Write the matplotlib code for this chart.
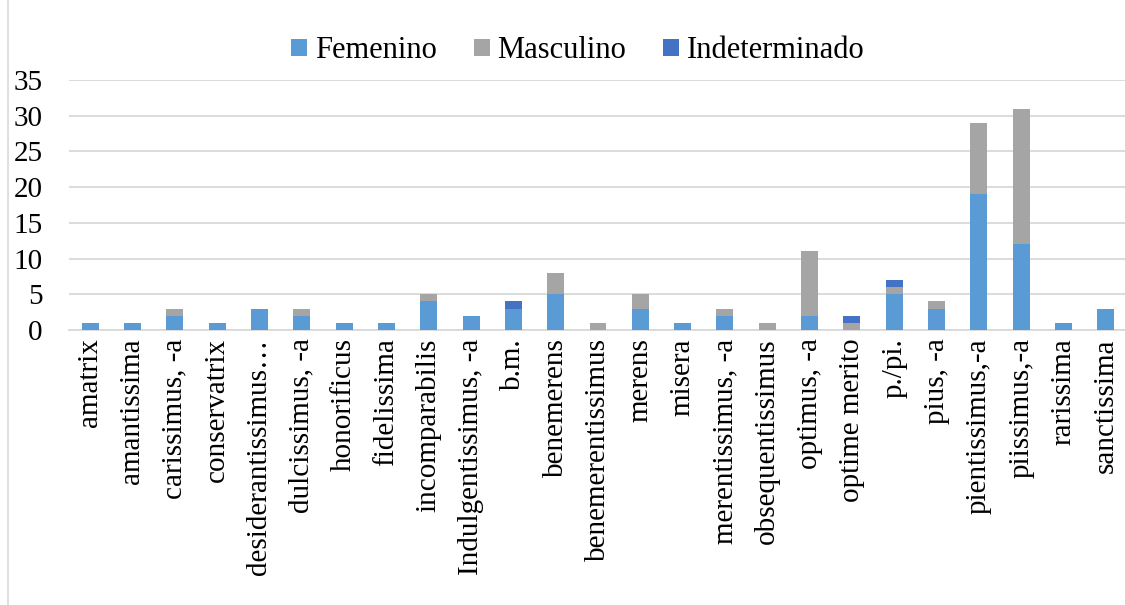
import numpy as np
import matplotlib
matplotlib.use('Agg')
import matplotlib.pyplot as plt
from matplotlib.patches import Rectangle

# Chart data
categories = ['amatrix', 'amantissima', 'carissimus, -a', 'conservatrix',
              'desiderantissimus…', 'dulcissimus, -a', 'honorificus',
              'fidelissima', 'incomparabilis', 'Indulgentissimus, -a', 'b.m.',
              'benemerens', 'benemerentissimus', 'merens', 'misera',
              'merentissimus, -a', 'obsequentissimus', 'optimus, -a',
              'optime merito', 'p./pi.', 'pius, -a', 'pientissimus,-a',
              'piissimus,-a', 'rarissima', 'sanctissima']
femenino = [1, 1, 2, 1, 3, 2, 1, 1, 4, 2, 3, 5, 0, 3, 1, 2, 0, 2, 0, 5, 3, 19, 12, 1, 3]
masculino = [0, 0, 1, 0, 0, 1, 0, 0, 1, 0, 0, 3, 1, 2, 0, 1, 1, 9, 1, 1, 1, 10, 19, 0, 0]
indeterminado = [0, 0, 0, 0, 0, 0, 0, 0, 0, 0, 1, 0, 0, 0, 0, 0, 0, 0, 1, 1, 0, 0, 0, 0, 0]
series_names = ['Femenino', 'Masculino', 'Indeterminado']
yticks = [0, 5, 10, 15, 20, 25, 30, 35]

plt.rcParams['font.family'] = ['Liberation Serif', 'DejaVu Serif']

W, H = 1125, 605
fig = plt.figure(figsize=(W / 100, H / 100), dpi=100)
ax = fig.add_axes([69 / W, (H - 330) / H, (1127 - 69) / W, 250 / H])

# light chart frame
fig.patches.append(Rectangle((8 / W, -0.1), 1.2, 1.3, transform=fig.transFigure,
                             fill=False, edgecolor='#D9D9D9', linewidth=1.2))

x = np.arange(len(categories))
f = np.array(femenino)
m = np.array(masculino)
i = np.array(indeterminado)
width = 0.4
ax.bar(x, f, width, color='#5B9BD5', label=series_names[0], zorder=3)
ax.bar(x, m, width, bottom=f, color='#A5A5A5', label=series_names[1], zorder=3)
ax.bar(x, i, width, bottom=f + m, color='#4472C4', label=series_names[2], zorder=3)

ax.set_xlim(-0.5, len(categories) - 0.5)
ax.set_ylim(0, 35)
ax.set_yticks(yticks)
ax.set_xticks(x)
ax.set_xticklabels(categories, rotation=90, fontsize=21)
ax.tick_params(axis='y', labelsize=21, length=0, pad=19)
ax.tick_params(axis='x', length=0, pad=6)
ax.grid(axis='y', color='#D9D9D9', linewidth=1.3, zorder=0)
for s in ['top', 'right', 'left']:
    ax.spines[s].set_visible(False)
ax.spines['bottom'].set_color('#D9D9D9')
ax.spines['bottom'].set_linewidth(1.3)

fig.legend(loc='center', bbox_to_anchor=(578 / W, (H - 51) / H), ncol=3,
           frameon=False, fontsize=22, handlelength=0.52, handleheight=0.5,
           handletextpad=0.26, columnspacing=1.2)

fig.savefig('out.png', dpi=100)
